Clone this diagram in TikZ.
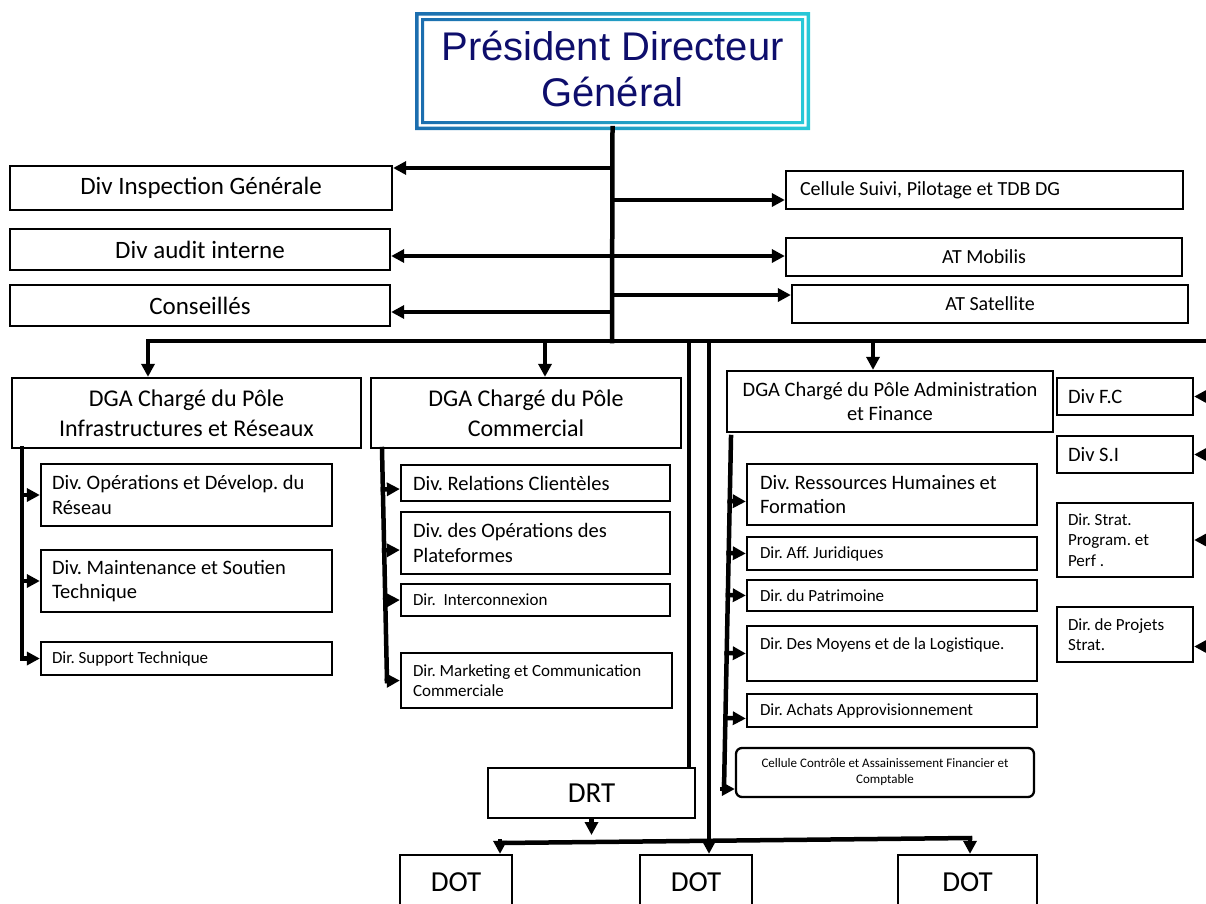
\documentclass[tikz,border=0pt]{standalone}
\usepackage{fontspec}
\setmainfont{Carlito}
\newfontfamily\titlefont{Liberation Sans}
\usetikzlibrary{arrows.meta,calc}
\frenchspacing

\definecolor{titleblue}{RGB}{14,14,108}
\definecolor{frameA}{RGB}{28,110,175}
\definecolor{frameB}{RGB}{120,120,235}
\definecolor{frameC}{RGB}{40,200,215}

% box from (x1,y1) to (x2,y2): [options]{x1}{y1}{x2}{y2}{name}{text}
\newcommand\orgbox[7][]{%
  \node[box,minimum width={#4-#2},minimum height={#5-#3},#1] (#6)
    at ({(#2+#4)/2},{(#3+#5)/2}) {#7};}

\tikzset{
  box/.style={draw, line width=2.3pt, fill=white, inner sep=0pt, align=flush center},
  lbox/.style={align=flush left, text width=#1},
  conn/.style={line width=4.5pt, line cap=rect, line join=miter},
  arr/.style={conn, -{Triangle[length=13pt,width=13pt]}},
  fA/.style={font=\fontsize{25}{30}\selectfont},
  fB/.style={font=\fontsize{20}{24}\selectfont},
  fD/.style={font=\fontsize{24}{30}\selectfont},
  fE/.style={font=\fontsize{20.5}{24}\selectfont},
  fS/.style={font=\fontsize{20.5}{24.5}\selectfont},
  fT/.style={font=\fontsize{17}{20.5}\selectfont},
  fU/.style={font=\fontsize{13}{16}\selectfont},
  fV/.style={font=\fontsize{29}{32}\selectfont},
}

\begin{document}
\begin{tikzpicture}[x=1pt,y=-1pt]
\useasboundingbox (0,0) rectangle (1206,903);
\fill[white] (0,0) rectangle (1206,903);

% --- head of the organisation, double gradient frame ---
\shade[left color=frameA, middle color=frameB, right color=frameC, even odd rule]
  (415,12) rectangle (810,130) (418.5,15.5) rectangle (806.5,126.5);
\shade[left color=frameA, middle color=frameB, right color=frameC, even odd rule]
  (421,18) rectangle (804,124) (424,21) rectangle (801,121);
\node[minimum width=395, minimum height=118, align=flush center, text=titleblue,
      font=\titlefont\fontsize{40}{46}\selectfont] (pdg) at (612.5,69)
  {Président Directeur\\Général};

% --- staff units ---
\orgbox[fA]{10}{166}{392}{210}{insp}{Div Inspection Générale}
\orgbox[fA]{10}{229}{390}{270}{audit}{Div audit interne}
\orgbox[fA]{10}{285}{390}{326}{cons}{Conseillés}
\orgbox[fB,lbox=369pt]{786}{171}{1183}{209}{cell}{Cellule Suivi, Pilotage et TDB DG}
\orgbox[fB]{786}{238}{1182}{276}{mob}{AT Mobilis}
\orgbox[fB]{792}{285}{1188}{323}{sat}{AT Satellite}

% --- deputy directors ---
\orgbox[fD]{12}{378}{361}{448}{dga1}{DGA Chargé du Pôle\\Infrastructures et Réseaux}
\orgbox[fD]{371}{378}{681}{448}{dga2}{DGA Chargé du Pôle\\Commercial}
\orgbox[fE]{727}{371}{1053}{432}{dga3}{DGA Chargé du Pôle Administration\\et Finance}

% --- infrastructures ---
\orgbox[fS,lbox=269pt]{41}{464}{332}{526}{i1}{Div. Opérations et Dévelop. du\\Réseau}
\orgbox[fS,lbox=269pt]{41}{550}{332}{612}{i2}{Div. Maintenance et Soutien\\Technique}
\orgbox[fT,lbox=269pt]{41}{642}{332}{675}{i3}{Dir. Support Technique}

% --- commercial ---
\orgbox[fS,lbox=245pt]{401}{465}{670}{501}{c1}{Div. Relations Clientèles}
\orgbox[fS,lbox=245pt]{401}{512}{670}{574}{c2}{Div. des Opérations des\\Plateformes}
\orgbox[fT,lbox=245pt]{401}{584}{670}{616}{c3}{Dir.\ \ Interconnexion}
\orgbox[fT,lbox=247pt]{401}{653}{672}{708}{c4}{Dir. Marketing et Communication\\Commerciale}

% --- administration and finance ---
\orgbox[fS,lbox=264pt]{747}{464}{1037}{525}{a1}{Div. Ressources Humaines et\\Formation}
\orgbox[fT,lbox=264pt]{747}{537}{1037}{570}{a2}{Dir. Aff. Juridiques}
\orgbox[fT,lbox=264pt]{747}{580}{1037}{611}{a3}{Dir. du Patrimoine}
\orgbox[fT,lbox=264pt]{747}{626}{1037}{681}{a4}{Dir. Des Moyens et de la Logistique.\\\mbox{}}
\orgbox[fT,lbox=264pt]{747}{694}{1037}{727}{a5}{Dir. Achats Approvisionnement}
\orgbox[fU,rounded corners=6pt]{736}{748}{1034}{797}{a6}{Cellule Contrôle et Assainissement Financier et\\Comptable}

% --- right-hand column ---
\orgbox[fS,lbox=114pt]{1057}{378}{1193}{415}{r1}{Div F.C}
\orgbox[fS,lbox=114pt]{1057}{436}{1193}{473}{r2}{Div S.I}
\orgbox[fT,lbox=114pt]{1057}{503}{1193}{577}{r3}{Dir. Strat.\\Program. et\\Perf .}
\orgbox[fT,lbox=114pt]{1057}{607}{1193}{662}{r4}{Dir. de Projets\\Strat.}

% --- regional level ---
\orgbox[fV]{488}{768}{695}{818}{drt}{DRT}
\orgbox[fV]{400}{855}{512}{909}{dot1}{DOT}
\orgbox[fV]{640}{855}{752}{909}{dot2}{DOT}
\orgbox[fV]{898}{855}{1037}{909}{dot3}{DOT}

% --- trunk and staff branches ---
\coordinate (jn) at (612,341);
\coordinate (k1) at (612,168);
\coordinate (k2) at (612,256);
\coordinate (k3) at (612,312);
\coordinate (k4) at (612,200);
\coordinate (k6) at (612,295);
\draw[conn] (pdg.south) -- (jn);
\draw[arr] (k1) -- (k1 -| insp.east);
\draw[arr] (k2) -- (k2 -| audit.east);
\draw[arr] (k3) -- (k3 -| cons.east);
\draw[arr] (k4) -- (k4 -| cell.west);
\draw[arr] (k2) -- (k2 -| mob.west);
\draw[arr] (k6) -- (k6 -| sat.west);

% --- main bar ---
\coordinate (bl) at (148,341);
\coordinate (bm) at (545,341);
\coordinate (br) at (873,341);
\coordinate (barR) at (1212,341);
\coordinate (railR) at (1212,652);
\draw[arr] (railR) -- (barR) -- (bl) -- (bl |- dga1.north);
\draw[arr] (bm) -- (bm |- dga2.north);
\draw[arr] (br) -- (br |- dga3.north);
\draw[arr] (railR |- r1.east) -- (r1.east);
\draw[arr] (railR |- r2.east) -- (r2.east);
\draw[arr] (railR |- r3.east) -- (r3.east);
\draw[arr] ([yshift=-12pt]railR |- r4.east) -- ([yshift=-12pt]r4.east);

% --- regional lines ---
\coordinate (v1) at (689,341);
\coordinate (v2) at (709,341);
\coordinate (dl) at (500,843);
\coordinate (dr) at (970,838);
\coordinate (drtA) at (591.5,835);
\draw[conn] (v1) -- (v1 |- drt.north);
\draw[arr] (drt.south) -- (drtA);
\draw[conn] (dl) -- (dr);
\draw[arr] (v2) -- (v2 |- dot2.north);
\draw[arr] (dl) -- (dl |- dot1.north);
\draw[arr] (dr) -- (dr |- dot3.north);

% --- infrastructures rail ---
\coordinate (s1) at (22,448);
\draw[conn] (s1) -- (s1 |- i3.west);
\draw[arr] (s1 |- i1.west) -- (i1.west);
\draw[arr] (s1 |- i2.west) -- (i2.west);
\draw[arr] (s1 |- i3.west) -- (i3.west);

% --- commercial rail ---
\coordinate (cA) at (382,449);
\coordinate (cB) at (387,681);
\draw[conn] (cA) -- (cB);
\draw[arr] ($(cA)!([yshift=-6pt]c1.west)!(cB)$) -- ([yshift=-6pt]c1.west);
\draw[arr] ($(cA)!([yshift=-7pt]c2.west)!(cB)$) -- ([yshift=-7pt]c2.west);
\draw[arr] ($(cA)!(c3.west)!(cB)$) -- (c3.west);
\draw[arr] ($(cA)!(c4.west)!(cB)$) -- (c4.west);

% --- administration rail ---
\coordinate (aA) at (731,437);
\coordinate (aB) at (724,789);
\draw[conn] (aA) -- (aB);
\draw[arr] ($(aA)!([yshift=-7pt]a1.west)!(aB)$) -- ([yshift=-7pt]a1.west);
\draw[arr] ($(aA)!(a2.west)!(aB)$) -- (a2.west);
\draw[arr] ($(aA)!(a3.west)!(aB)$) -- (a3.west);
\draw[arr] ($(aA)!(a4.west)!(aB)$) -- (a4.west);
\draw[arr] ($(aA)!([yshift=-8pt]a5.west)!(aB)$) -- ([yshift=-8pt]a5.west);
\draw[arr] (aB) -- (aB -| a6.west);
\end{tikzpicture}
\end{document}
